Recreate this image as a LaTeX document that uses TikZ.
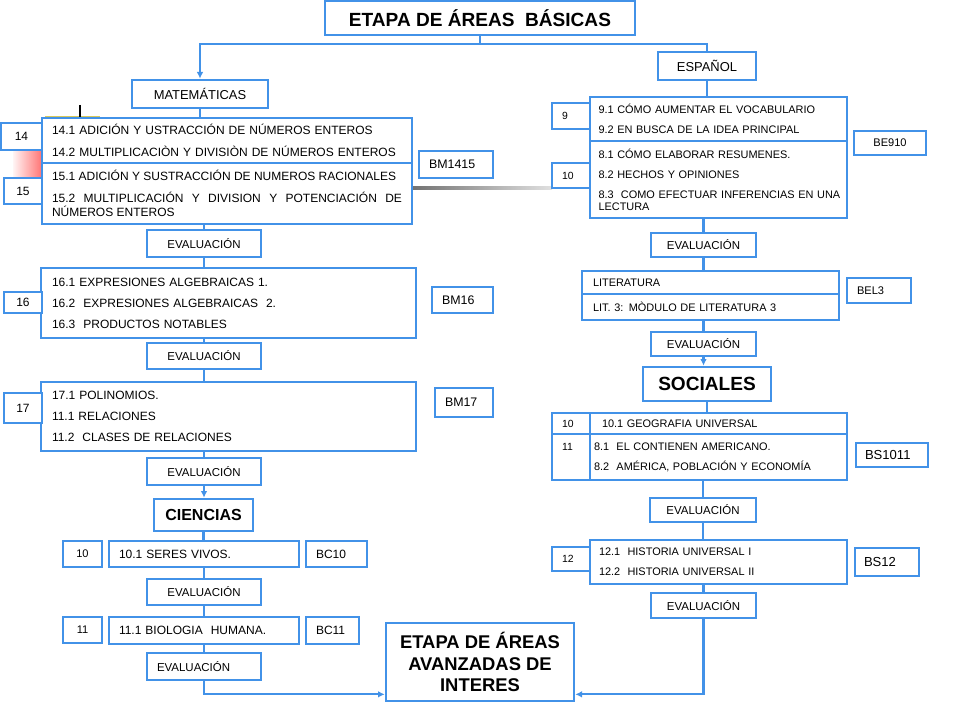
\documentclass[tikz,border=0pt]{standalone}
\usepackage{fontspec}
\setmainfont{Liberation Sans}
\usetikzlibrary{arrows.meta}

\definecolor{azul}{RGB}{66,146,232}
\definecolor{amarillo}{RGB}{215,200,90}

\begin{document}
\begin{tikzpicture}[x=0.75pt,y=-0.75pt,
  >={Latex[length=5pt,width=5pt]},
  sitio/.code n args={4}{\pgfmathsetmacro\cajacx{(#1+#3)/2}\pgfmathsetmacro\cajacy{(#2+#4)/2}%
    \pgfmathsetmacro\cajaw{(#3-#1)*0.75}\pgfmathsetmacro\cajah{(#4-#2)*0.75}%
    \edef\cajaopts{\noexpand\pgfkeysalso{at={(\cajacx,\cajacy)},minimum width=\cajaw pt,minimum height=\cajah pt}}\cajaopts},
  caja/.style={draw=azul,line width=2pt,fill=white,inner sep=0pt},
  tema/.style={caja,align=left,font=\fontsize{9}{10.5}\selectfont},
  temae/.style={caja,align=left,font=\fontsize{8.2}{9}\selectfont},
  num/.style={caja,font=\fontsize{9}{10}\selectfont},
  nume/.style={caja,align=left,text width=13.5pt,font=\fontsize{7.8}{9}\selectfont},
  clave/.style={caja,align=left,font=\fontsize{9.3}{11}\selectfont},
  clavee/.style={caja,align=left,font=\fontsize{8.3}{10}\selectfont},
  claves/.style={caja,align=left,font=\fontsize{9.8}{11}\selectfont},
  eval/.style={caja,font=\fontsize{8.6}{10}\selectfont},
  area/.style={caja,font=\fontsize{9.7}{11}\selectfont},
  titulo/.style={caja,font=\bfseries\fontsize{14.3}{16}\selectfont},
  flecha/.style={draw=azul,line width=1.6pt}]
\useasboundingbox (0,0) rectangle (960,720);
\fill[white] (0,0) rectangle (960,720);
\shade[left color=red!4,right color=red!55] (13,148) rectangle (42,177);
\draw[line width=2pt,amarillo] (45,117) -- (100,117);
\draw[line width=2.2pt] (80,105) -- (80,117);
\shade[left color=black!55,right color=black!12] (413,186.5) rectangle (552,189.5);

\node[titulo,sitio={325}{1}{635}{35}] (basicas) {ETAPA DE ÁREAS\ \ BÁSICAS};
\node[area,sitio={132}{80}{268}{108}] (mate) {MATEMÁTICAS};
\node[area,sitio={658}{52}{756}{80}] (espa) {ESPAÑOL};

\node[tema,text width=262.5pt,sitio={42}{118}{412}{163}] (m14) {14.1 ADICIÓN Y USTRACCIÓN DE NÚMEROS ENTEROS\\[6pt]14.2 MULTIPLICACIÒN Y DIVISIÒN DE NÚMEROS ENTEROS};
\node[tema,align=justify,text width=262.5pt,sitio={42}{163}{412}{224}] (m15) {15.1 ADICIÓN Y SUSTRACCIÓN DE NUMEROS RACIONALES\\[6pt]15.2 MULTIPLICACIÓN Y DIVISION Y POTENCIACIÓN DE\linebreak NÚMEROS ENTEROS};
\node[num,sitio={1}{123}{42}{150}] (n14) {14};
\node[num,sitio={4}{178}{42}{204}] (n15) {15};
\node[clave,text width=40.5pt,sitio={419}{151}{493}{178}] (bm1415) {BM1415};
\node[eval,sitio={147}{230}{261}{257}] (ev1) {EVALUACIÓN};
\node[tema,text width=264.75pt,sitio={41}{268}{416}{338}] (m16) {16.1 EXPRESIONES ALGEBRAICAS 1.\\[5.25pt]16.2\ \ EXPRESIONES ALGEBRAICAS\ \ 2.\\[5.25pt]16.3\ \ PRODUCTOS NOTABLES};
\node[num,sitio={4}{292}{42}{313}] (n16) {16};
\node[clave,text width=30.75pt,sitio={432}{287}{493}{313}] (bm16) {BM16};
\node[eval,sitio={147}{343}{261}{369}] (ev2) {EVALUACIÓN};
\node[tema,text width=264.75pt,sitio={41}{382}{416}{451}] (m17) {17.1 POLINOMIOS.\\[5.25pt]11.1 RELACIONES\\[5.25pt]11.2\ \ CLASES DE RELACIONES};
\node[num,sitio={4}{393}{42}{423}] (n17) {17};
\node[clave,text width=28.5pt,sitio={435}{388}{493}{417}] (bm17) {BM17};
\node[eval,sitio={147}{458}{261}{485}] (ev3) {EVALUACIÓN};

\node[caja,font=\bfseries\fontsize{12}{14}\selectfont,sitio={154}{499}{253}{531}] (cien) {CIENCIAS};
\node[num,font=\fontsize{8.3}{10}\selectfont,sitio={63}{541}{102}{567}] (c10n) {10};
\node[tema,text width=127.5pt,sitio={109}{541}{299}{567}] (c10) {10.1 SERES VIVOS.};
\node[clave,font=\fontsize{9}{10}\selectfont,text width=30.75pt,sitio={306}{541}{367}{567}] (bc10) {BC10};
\node[eval,sitio={147}{579}{261}{605}] (cev1) {EVALUACIÓN};
\node[num,font=\fontsize{8.3}{10}\selectfont,sitio={63}{617}{102}{643}] (c11n) {11};
\node[tema,text width=127.5pt,sitio={109}{617}{299}{644}] (c11) {11.1 BIOLOGIA\ \ HUMANA.};
\node[clave,font=\fontsize{9}{10}\selectfont,text width=24.75pt,sitio={306}{617}{359}{644}] (bc11) {BC11};
\node[eval,align=left,text width=70.5pt,sitio={147}{653}{261}{680}] (cev2) {EVALUACIÓN};

\node[temae,text width=180pt,sitio={590}{97}{847}{141}] (e9) {9.1 CÓMO AUMENTAR EL VOCABULARIO\\[6pt]9.2 EN BUSCA DE LA IDEA PRINCIPAL};
\node[temae,text width=180pt,sitio={590}{141}{847}{218}] (e10) {8.1 CÓMO ELABORAR RESUMENES.\\[6pt]8.2 HECHOS Y OPINIONES\\[6pt]\mbox{8.3\ \ COMO EFECTUAR INFERENCIAS EN UNA}\\LECTURA};
\node[nume,sitio={552}{103}{590}{129}] (e9n) {9};
\node[nume,sitio={552}{163}{590}{188}] (e10n) {10};
\node[clavee,align=center,sitio={854}{131}{926}{155}] (be910) {BE910};
\node[eval,sitio={651}{233}{756}{257}] (eev1) {EVALUACIÓN};
\node[temae,text width=176.25pt,sitio={582}{271}{839}{294}] (lit1) {LITERATURA};
\node[temae,text width=176.25pt,sitio={582}{294}{839}{320}] (lit2) {LIT. 3: MÒDULO DE LITERATURA 3};
\node[clavee,text width=33pt,sitio={847}{278}{911}{303}] (bel3) {BEL3};
\node[eval,sitio={651}{332}{756}{356}] (eev2) {EVALUACIÓN};

\node[titulo,sitio={643}{367}{771}{401}] (soc) {SOCIALES};
\node[nume,sitio={552}{413}{590}{434}] (s10n) {10};
\node[temae,text width=174.75pt,sitio={590}{413}{847}{434}] (s10) {10.1 GEOGRAFIA UNIVERSAL};
\node[nume,sitio={552}{434}{590}{480}] (s11n) {11\\[6pt]\phantom{8}};
\node[temae,text width=186.75pt,sitio={590}{434}{847}{480}] (s11) {8.1\ \ EL CONTIENEN AMERICANO.\\[6pt]8.2\ \ AMÉRICA, POBLACIÓN Y ECONOMÍA};
\node[claves,text width=40.5pt,sitio={856}{443}{928}{467}] (bs1011) {BS1011};
\node[eval,sitio={650}{498}{756}{522}] (sev3) {EVALUACIÓN};
\node[temae,text width=179.25pt,sitio={590}{540}{847}{584}] (h12) {12.1\ \ HISTORIA UNIVERSAL I\\[6pt]12.2\ \ HISTORIA UNIVERSAL II};
\node[nume,sitio={552}{547}{590}{571}] (h12n) {12};
\node[claves,text width=34.5pt,sitio={855}{548}{919}{576}] (bs12) {BS12};
\node[eval,sitio={651}{593}{756}{618}] (sev4) {EVALUACIÓN};

\node[titulo,align=center,font=\bfseries\fontsize{13.8}{16.1}\selectfont,sitio={386}{623}{574}{701}] (avanzadas) {ETAPA DE ÁREAS\\AVANZADAS DE\\INTERES};

\draw[flecha,->] (basicas.south) -- ++(0,8) -| (mate.north);
\draw[flecha] (basicas.south) -- ++(0,8) -| (espa.north);
\draw[flecha] (mate) -- (mate |- m14.north);
\draw[flecha] (m15.south -| ev1) -- (ev1);
\draw[flecha] (ev1) -- (ev1 |- m16.north);
\draw[flecha] (m16.south -| ev2) -- (ev2);
\draw[flecha] (ev2) -- (ev2 |- m17.north);
\draw[flecha] (m17.south -| ev3) -- (ev3);
\draw[flecha,->] (ev3) -- (ev3 |- cien.north);
\draw[flecha] (cien) -- (cien |- c10.north);
\draw[flecha] (c10.south -| cev1) -- (cev1);
\draw[flecha] (cev1) -- (cev1 |- c11.north);
\draw[flecha] (c11.south -| cev2) -- (cev2);
\draw[flecha,->] (cev2.south) |- ([yshift=6pt]avanzadas.south west);
\draw[flecha] (espa) -- (espa |- e9.north);
\draw[flecha] (e10.south -| eev1) -- (eev1);
\draw[flecha] (eev1) -- (eev1 |- lit1.north);
\draw[flecha] (lit2.south -| eev2) -- (eev2);
\draw[flecha,->] (eev2) -- (eev2 |- soc.north);
\draw[flecha] (soc) -- (soc |- s10.north);
\draw[flecha] (s11.south -| sev3) -- (sev3);
\draw[flecha] (sev3) -- (sev3 |- h12.north);
\draw[flecha] (h12.south -| sev4) -- (sev4);
\draw[flecha,->] (sev4.south) |- ([yshift=6pt]avanzadas.south east);
\end{tikzpicture}
\end{document}
